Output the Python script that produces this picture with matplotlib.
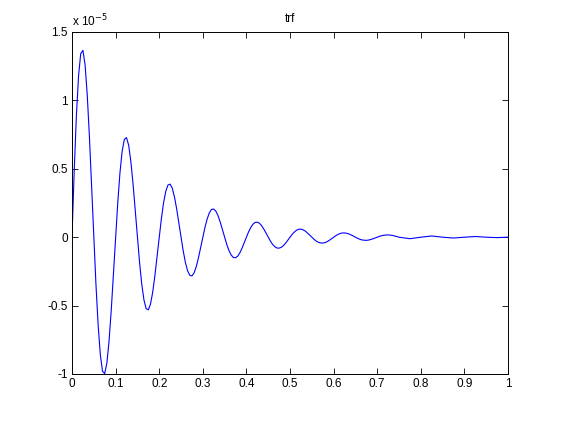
import numpy as np
import matplotlib
matplotlib.use("Agg")
import matplotlib.pyplot as plt

plt.rcParams['font.family'] = ['Liberation Sans', 'DejaVu Sans']

# time samples (s): fine grid while the oscillation is large, coarser in the tail
t_fine = np.round(np.arange(0, 0.75, 0.005), 3)
t_tail = [0.75, 0.775, 0.8, 0.825, 0.85, 0.875, 0.9, 0.925, 0.95, 0.975, 1.0]

# response, in units of 1e-5
v_fine = [
    0, 0.479, 0.883, 1.178, 1.342, 1.366, 1.260, 1.038, 0.731, 0.372,
    0, -0.350, -0.645, -0.860, -0.980, -0.997, -0.920, -0.758, -0.534, -0.272,
    0, 0.255, 0.471, 0.628, 0.715, 0.728, 0.672, 0.553, 0.390, 0.198,
    0, -0.186, -0.343, -0.458, -0.522, -0.531, -0.490, -0.404, -0.284, -0.145,
    0, 0.136, 0.251, 0.335, 0.381, 0.388, 0.358, 0.295, 0.208, 0.106,
    0, -0.099, -0.183, -0.244, -0.278, -0.283, -0.261, -0.215, -0.151, -0.077,
    0, 0.072, 0.133, 0.178, 0.203, 0.206, 0.190, 0.157, 0.110, 0.056,
    0, -0.053, -0.097, -0.130, -0.148, -0.150, -0.139, -0.114, -0.080, -0.041,
    0, 0.039, 0.071, 0.095, 0.108, 0.110, 0.102, 0.084, 0.059, 0.030,
    0, -0.028, -0.052, -0.069, -0.079, -0.080, -0.074, -0.061, -0.043, -0.022,
    0, 0.021, 0.038, 0.051, 0.058, 0.059, 0.054, 0.045, 0.031, 0.016,
    0, -0.015, -0.028, -0.037, -0.042, -0.043, -0.040, -0.033, -0.023, -0.012,
    0, 0.011, 0.020, 0.027, 0.031, 0.031, 0.029, 0.024, 0.017, 0.009,
    0, -0.008, -0.015, -0.020, -0.022, -0.023, -0.021, -0.017, -0.012, -0.006,
    0, 0.006, 0.011, 0.014, 0.016, 0.017, 0.015, 0.013, 0.009, 0.005,
]
v_tail = [0, -0.011, 0, 0.009, 0, -0.006, 0, 0.005, 0, -0.003, 0]

xticks = [0, 0.1, 0.2, 0.3, 0.4, 0.5, 0.6, 0.7, 0.8, 0.9, 1]
xlabels = ["0", "0.1", "0.2", "0.3", "0.4", "0.5", "0.6", "0.7", "0.8", "0.9", "1"]
yticks = [-1, -0.5, 0, 0.5, 1, 1.5]
ylabels = ["-1", "-0.5", "0", "0.5", "1", "1.5"]

t = list(t_fine) + t_tail
v = v_fine + v_tail

fig = plt.figure(figsize=(5.63, 4.28), dpi=100)
ax = fig.add_axes([72 / 563, 1 - 374 / 428, 436 / 563, 342 / 428])
ax.plot(t, v, color=(0, 0, 1), lw=0.8)

ax.set_xlim(0, 1)
ax.set_ylim(-1, 1.5)
ax.set_xticks(xticks, xlabels)
ax.set_yticks(yticks, ylabels)
ax.tick_params(direction='in', length=4, width=0.6, labelsize=8.5,
               top=True, right=True, pad=3)
for s in ax.spines.values():
    s.set_linewidth(0.7)

ax.set_title("trf", fontsize=8.5, pad=7)
ax.text(0, 1.008, r"x 10$^{-5}$", transform=ax.transAxes, fontsize=8.5,
        ha='left', va='bottom')

fig.savefig("out.png", dpi=100)
